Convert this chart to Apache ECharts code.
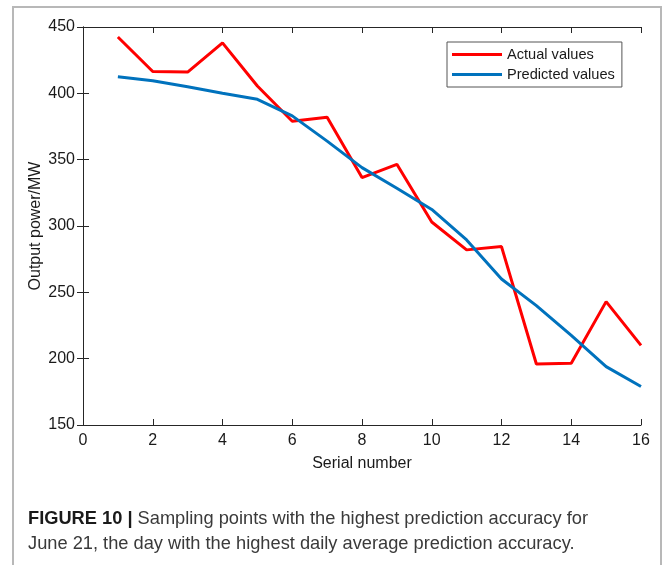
<!DOCTYPE html>
<html>
<head>
<meta charset="utf-8">
<script src="https://cdn.jsdelivr.net/npm/echarts@6/dist/echarts.min.js"></script>
<style>
  html, body { margin: 0; padding: 0; background: #fff; }
  #chart { width: 665px; height: 565px; }
</style>
</head>
<body>
<div id="chart"></div>
<script>
// Sampling points (serial number) and output power in MW
const serial = [1, 2, 3, 4, 5, 6, 7, 8, 9, 10, 11, 12, 13, 14, 15, 16];
const actualValues = [442.5, 416.5, 416, 438, 405.5, 379, 382, 336.5, 346.5, 303, 282, 284.5, 196, 196.5, 243, 210];
const predictedValues = [412.5, 409.5, 405, 400, 395.5, 383, 364, 344, 328.5, 312.5, 289.5, 260, 240, 217.5, 194, 179];
const seriesNames = ['Actual values', 'Predicted values'];
const xTicks = { min: 0, max: 16, interval: 2 };
const yTicks = { min: 150, max: 450, interval: 50 };

const pairs = (ys) => serial.map((x, i) => [x, ys[i]]);

const axisColor = '#262626';
const font = '"Liberation Sans", Arial, sans-serif';

const chart = echarts.init(document.getElementById('chart'), null, { renderer: 'canvas' });

const baseAxis = {
  type: 'value',
  axisLine: { show: true, lineStyle: { color: axisColor, width: 1 } },
  axisTick: { show: true, inside: true, length: 6, lineStyle: { color: axisColor, width: 1 } },
  splitLine: { show: false }
};

chart.setOption({
  animation: false,
  backgroundColor: '#fff',
  textStyle: { fontFamily: font },
  grid: { left: 83, right: 24, top: 27, bottom: 140 },
  xAxis: [
    Object.assign({}, baseAxis, {
      position: 'bottom',
      min: xTicks.min, max: xTicks.max, interval: xTicks.interval,
      name: 'Serial number', nameLocation: 'middle', nameGap: 31,
      nameMoveOverlap: false,
      nameTextStyle: { fontSize: 16, color: '#1a1a1a', fontFamily: font },
      axisLabel: { fontSize: 16, color: '#1a1a1a', margin: 8, fontFamily: font }
    }),
    Object.assign({}, baseAxis, {
      position: 'top',
      min: xTicks.min, max: xTicks.max, interval: xTicks.interval,
      axisLabel: { show: false }
    })
  ],
  yAxis: [
    Object.assign({}, baseAxis, {
      position: 'left',
      min: yTicks.min, max: yTicks.max, interval: yTicks.interval,
      name: 'Output power/MW', nameLocation: 'middle', nameGap: 39,
      nameMoveOverlap: false,
      nameTextStyle: { fontSize: 16, color: '#1a1a1a', fontFamily: font },
      axisLabel: { fontSize: 16, color: '#1a1a1a', margin: 8, fontFamily: font }
    }),
    Object.assign({}, baseAxis, {
      position: 'right',
      min: yTicks.min, max: yTicks.max, interval: yTicks.interval,
      axisLabel: { show: false }
    })
  ],
  legend: {
    orient: 'vertical',
    left: 447,
    top: 42,
    padding: [5, 7, 5, 5],
    itemGap: 5,
    itemWidth: 50,
    itemHeight: 3,
    icon: 'rect',
    backgroundColor: '#fff',
    borderColor: '#555',
    borderWidth: 1,
    borderRadius: 0,
    textStyle: { fontSize: 14.6, color: '#1a1a1a', fontFamily: font },
    data: seriesNames
  },
  series: [
    {
      name: seriesNames[0],
      type: 'line',
      data: pairs(actualValues),
      showSymbol: false,
      symbol: 'none',
      color: '#ff0000',
      lineStyle: { color: '#ff0000', width: 3 },
      z: 2
    },
    {
      name: seriesNames[1],
      type: 'line',
      data: pairs(predictedValues),
      showSymbol: false,
      symbol: 'none',
      color: '#0072bd',
      lineStyle: { color: '#0072bd', width: 3 },
      z: 3
    }
  ],
  graphic: [
    {
      type: 'rect',
      shape: { x: 13, y: 7, width: 648, height: 600 },
      style: { fill: 'none', stroke: '#b8b8b8', lineWidth: 2 },
      silent: true, z: -1
    },
    {
      type: 'text',
      left: 28, top: 510,
      style: {
        text: '{b|FIGURE 10 |} Sampling points with the highest prediction accuracy for',
        rich: {
          b: { fontWeight: 'bold', fontSize: 18.25, fill: '#1a1a1a', fontFamily: font }
        },
        fontSize: 18.25, fill: '#3a3a3a', fontFamily: font
      }
    },
    {
      type: 'text',
      left: 28, top: 535,
      style: {
        text: 'June 21, the day with the highest daily average prediction accuracy.',
        fontSize: 18.25, fill: '#3a3a3a', fontFamily: font
      }
    }
  ]
});
</script>
</body>
</html>
